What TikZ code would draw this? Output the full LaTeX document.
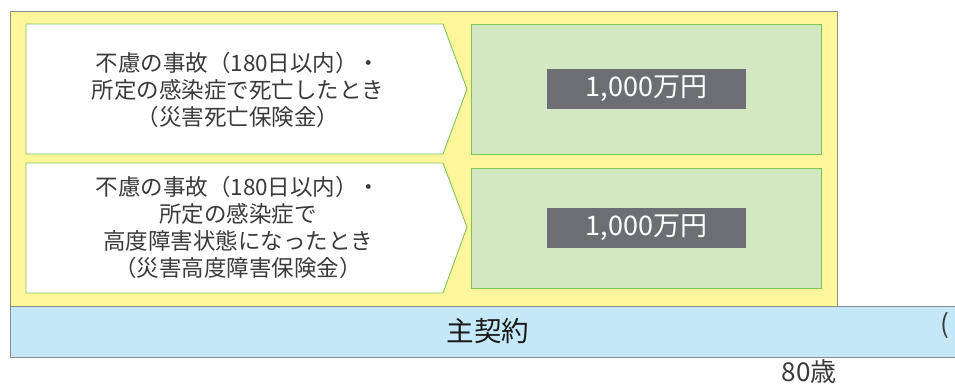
\documentclass[tikz,border=0pt]{standalone}
\usepackage{fontspec}
\setmainfont{Noto Sans CJK JP}
\definecolor{yel}{HTML}{FFF59B}
\definecolor{yelb}{HTML}{8A8A8A}
\definecolor{grn}{HTML}{D3E7C2}
\definecolor{grnb}{HTML}{7CC653}
\definecolor{dk}{HTML}{6D6E71}
\definecolor{blu}{HTML}{C5E8F9}
\definecolor{txt}{HTML}{3A3A3A}
\tikzset{
  yelbox/.style={fill=yel,draw=yelb,line width=0.9pt},
  grnbox/.style={fill=grn,draw=grnb,line width=0.9pt},
  arrowbox/.style={fill=white,draw=grnb,line width=0.9pt},
  amount/.style={fill=dk,text=white,font=\fontsize{27}{30}\selectfont,minimum width=199pt,minimum height=40pt,inner sep=0pt},
  cond/.style={text=txt,align=center,font=\fontsize{22.5}{27}\selectfont,inner sep=0pt},
  bluebox/.style={fill=blu,draw=yelb,line width=0.9pt},
}
\begin{document}
\begin{tikzpicture}[x=1pt,y=-1pt]
\useasboundingbox (0,0) rectangle (955,383);
% outer yellow
\path[yelbox] (10,11) rectangle (837,306);
% blue main contract bar
\path[bluebox] (10,306) rectangle (960,357);
\node[text=black!90,font=\fontsize{27.5}{30}\selectfont,inner sep=0pt] (main) at (488,331) {主契約};
\node[text=txt,font=\fontsize{26}{30}\selectfont,inner sep=0pt,anchor=west] (paren) at (940,325) {(};
% row 1
\path[arrowbox] (26,24) -- (443,24) -- (467,89) -- (443,154) -- (26,154) -- cycle;
\node[cond] (c1) at (238,90) {不慮の事故（180日以内）・\\所定の感染症で死亡したとき\\（災害死亡保険金）};
\path[grnbox] (471,24) rectangle (821,154);
\node[amount] (a1) at (646.5,89) {1,000万円};
% row 2
\path[arrowbox] (26,163) -- (443,163) -- (467,227) -- (443,293) -- (26,293) -- cycle;
\node[cond] (c2) at (238,227) {不慮の事故（180日以内）・\\所定の感染症で\\高度障害状態になったとき\\（災害高度障害保険金）};
\path[grnbox] (471,168) rectangle (821,288);
\node[amount] (a2) at (646.5,228) {1,000万円};
% age
\node[text=txt,font=\fontsize{26}{30}\selectfont,inner sep=0pt] (age) at (809,372) {80歳};
\end{tikzpicture}
\end{document}
